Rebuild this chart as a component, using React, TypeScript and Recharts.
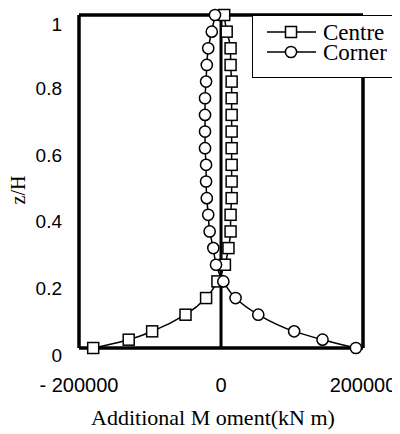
import React from 'react';
import { LineChart, Line, XAxis, YAxis, ReferenceLine } from 'recharts';

const zLevels = [0, 0.025, 0.05, 0.1, 0.15, 0.2, 0.25, 0.3, 0.35, 0.4, 0.45, 0.5, 0.55, 0.6, 0.65, 0.7, 0.75, 0.8, 0.85, 0.9, 0.95, 1.0];
const centreValues = [-180000, -130000, -97000, -50000, -21000, -5000, 5500, 10500, 13500, 13500, 15000, 15000, 15000, 15000, 15000, 15000, 15000, 15000, 13500, 13500, 8000, 4500];
const cornerValues = [190000, 143000, 103000, 52500, 20500, 3300, -7000, -10800, -16000, -18000, -20000, -21000, -21000, -22500, -22500, -22500, -22500, -21000, -20000, -18000, -13000, -8500];
const xTicks = [-200000, 0, 200000];
const yTicks = [0, 0.2, 0.4, 0.6, 0.8, 1];
const seriesNames = ['Centre', 'Corner'];

const data = zLevels.map((z, i) => ({ z, centre: centreValues[i], corner: cornerValues[i] }));

const SANS = '"Liberation Sans", Arial, sans-serif';
const SERIF = '"Liberation Serif", "Times New Roman", serif';

const SquareDot = (props: any) => {
  const { cx, cy } = props;
  if (cx == null || cy == null) return null;
  return <rect x={cx - 5.5} y={cy - 5.5} width={11} height={11} fill="#fff" stroke="#000" strokeWidth={1.5} />;
};
const CircleDot = (props: any) => {
  const { cx, cy } = props;
  if (cx == null || cy == null) return null;
  return <circle cx={cx} cy={cy} r={5.6} fill="#fff" stroke="#000" strokeWidth={1.5} />;
};

const fmtX = (v: number) => (v < 0 ? '- ' + Math.abs(v) : String(v));

const XTick = (props: any) => {
  const { x, y, payload } = props;
  return (
    <text x={x} y={y + 37} textAnchor="middle" dominantBaseline="central" fontFamily={SANS} fontSize={20} fill="#000">
      {fmtX(payload.value)}
    </text>
  );
};
const YTick = (props: any) => {
  const { x, y, payload } = props;
  return (
    <text x={x} y={y + 7} textAnchor="end" dominantBaseline="central" fontFamily={SANS} fontSize={19} fill="#000">
      {String(payload.value)}
    </text>
  );
};

const LegendBox = () => (
  <div style={{ position: 'absolute', top: 7, left: 244, width: 141, height: 63, border: '1px solid #000', background: '#fff', boxSizing: 'border-box' }}>
    <svg width={139} height={61} style={{ display: 'block' }}>
      {seriesNames.map((name, i) => {
        const cy = 16 + i * 20;
        return (
          <g key={name}>
            <line x1={14} x2={63} y1={cy} y2={cy} stroke="#000" strokeWidth={1.5} />
            {i === 0 ? <SquareDot cx={38} cy={cy} /> : <CircleDot cx={38} cy={cy} />}
            <text x={70} y={cy} dominantBaseline="central" fontFamily={SERIF} fontSize={23} fill="#000">{name}</text>
          </g>
        );
      })}
    </svg>
  </div>
);

const YLabel = () => (
  <text x={10} y={182} transform="rotate(-90 10 182)" textAnchor="middle" dominantBaseline="central" fontFamily={SERIF} fontSize={20} fill="#000">
    z/H
  </text>
);

export default function App() {
  return (
    <div style={{ position: 'relative', width: 392, height: 426 }}>
      <LineChart
        width={392}
        height={426}
        data={data}
        layout="vertical"
        margin={{ top: 7, right: 37, bottom: 0, left: 0 }}
      >
        <XAxis
          type="number"
          domain={[-200000, 200000]}
          ticks={xTicks}
          tick={<XTick />}
          tickLine={false}
          tickSize={0}
          tickMargin={0}
          height={86}
          axisLine={{ stroke: '#000', strokeWidth: 3.5 }}
          label={{ value: 'Additional M oment(kN m)', position: 'insideBottom', offset: 9, dx: -8, fontFamily: SERIF, fontSize: 22, fill: '#000' }}
        />
        <YAxis
          type="number"
          dataKey="z"
          domain={[0, 1]}
          ticks={yTicks}
          reversed
          tick={<YTick />}
          tickLine={false}
          tickSize={0}
          tickMargin={17}
          width={71}
          axisLine={{ stroke: '#000', strokeWidth: 3.5 }}
          label={<YLabel />}
        />
        <ReferenceLine y={1} stroke="#000" strokeWidth={3.5} />
        <ReferenceLine x={200000} stroke="#000" strokeWidth={3.5} />
        <ReferenceLine x={0} stroke="#000" strokeWidth={3} />
        <Line
          type="monotone"
          dataKey="centre"
          name="Centre"
          stroke="#000"
          strokeWidth={1.5}
          dot={<SquareDot />}
          activeDot={false}
          isAnimationActive={false}
        />
        <Line
          type="monotone"
          dataKey="corner"
          name="Corner"
          stroke="#000"
          strokeWidth={1.5}
          dot={<CircleDot />}
          activeDot={false}
          isAnimationActive={false}
        />
      </LineChart>
      <LegendBox />
    </div>
  );
}
